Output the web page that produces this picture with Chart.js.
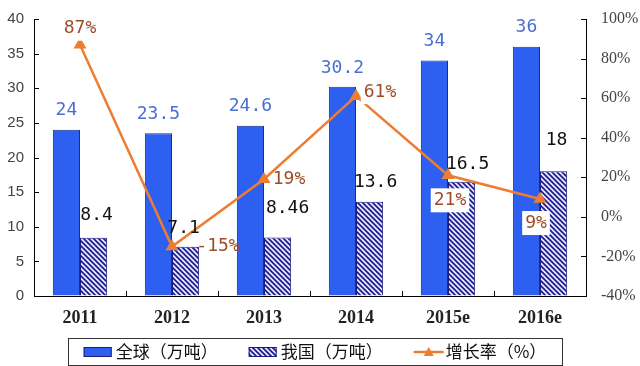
<!DOCTYPE html>
<html>
<head>
<meta charset="utf-8">
<script src="https://cdn.jsdelivr.net/npm/chart.js@4.4.1/dist/chart.umd.min.js"></script>
<style>
  html, body { margin: 0; padding: 0; background: #fff; }
  #wrap { width: 640px; height: 366px; }
</style>
</head>
<body>
<div id="wrap"><canvas id="chart" width="640" height="366"></canvas></div>
<script>
// datos
const anios = ['2011', '2012', '2013', '2014', '2015e', '2016e'];
const global = [24, 23.5, 24.6, 30.2, 34, 36];
const china = [8.4, 7.1, 8.46, 13.6, 16.5, 18];
const crecimiento = [87, -15, 19, 61, 21, 9];
const ticksIzq = [0, 5, 10, 15, 20, 25, 30, 35, 40];
const ticksDer = [-40, -20, 0, 20, 40, 60, 80, 100];

const nombres = ['全球（万吨）', '我国（万吨）', '增长率（%）'];

const AZUL = '#2d5ff0';
const NARANJA = '#ed7d31';
const MARRON = '#9e4c28';
const FUENTE_NUM = "'DejaVu Sans Mono', monospace";

// patron rayado para la serie de China
const crearRayado = () => {
    const c = document.createElement('canvas');
    c.width = c.height = 5;
    const g = c.getContext('2d');
    g.fillStyle = '#e8e8fb';
    g.fillRect(0, 0, 5, 5);
    g.strokeStyle = '#1c1c92';
    g.lineWidth = 1.7;
    g.beginPath();
    g.moveTo(-1, -1); g.lineTo(6, 6);
    g.moveTo(-1, 4); g.lineTo(1, 6);
    g.moveTo(4, -1); g.lineTo(6, 1);
    g.stroke();
    return g.createPattern(c, 'repeat');
};
const rayado = crearRayado();

// etiquetas de valores
const etiquetas = {
    id: 'etiquetas',
    afterDatasetsDraw(chart, args, opts) {
        const ctx = chart.ctx;
        ctx.save();
        ctx.textAlign = 'center';
        ctx.textBaseline = 'middle';
        ctx.font = '18px ' + FUENTE_NUM;

        // global
        chart.getDatasetMeta(1).data.forEach((el, i) => {
            ctx.fillStyle = '#4a6fd4';
            ctx.fillText(String(global[i]), el.x, el.y - 19);
        });
        // china
        chart.getDatasetMeta(2).data.forEach((el, i) => {
            ctx.fillStyle = '#111';
            ctx.fillText(String(china[i]), el.x + opts.chinaDx[i], el.y + opts.chinaDy[i]);
        });
        // crecimiento
        chart.getDatasetMeta(0).data.forEach((el, i) => {
            const txt = crecimiento[i] + '%';
            const x = el.x + opts.crecDx[i];
            const y = el.y + opts.crecDy[i];
            const w = ctx.measureText(txt).width;
            if (opts.crecFondo[i]) {
                ctx.fillStyle = '#fff';
                ctx.fillRect(x - w / 2 - 3, y - 12, w + 6, 24);
            }
            ctx.fillStyle = MARRON;
            ctx.fillText(txt, x, y);
        });
        ctx.restore();
    }
};

// marcas de los ejes hacia dentro
const marcas = {
    id: 'marcas',
    afterDraw(chart) {
        const ctx = chart.ctx;
        const a = chart.chartArea;
        const y = chart.scales.y, y1 = chart.scales.y1;
        ctx.save();
        ctx.strokeStyle = '#000';
        ctx.lineWidth = 1;
        ctx.beginPath();
        ticksIzq.forEach(v => {
            const p = Math.round(y.getPixelForValue(v)) + 0.5;
            ctx.moveTo(a.left, p); ctx.lineTo(a.left + 5, p);
        });
        ticksDer.forEach(v => {
            const p = Math.round(y1.getPixelForValue(v)) + 0.5;
            ctx.moveTo(a.right, p); ctx.lineTo(a.right - 5, p);
        });
        const paso = (a.right - a.left) / anios.length;
        for (let i = 1; i < anios.length; i++) {
            const p = Math.round(a.left + i * paso) + 0.5;
            ctx.moveTo(p, a.bottom); ctx.lineTo(p, a.bottom - 5);
        }
        ctx.stroke();
        ctx.restore();
    }
};

// leyenda con recuadro
const leyenda = {
    id: 'leyenda',
    afterDraw(chart) {
        const ctx = chart.ctx;
        ctx.save();
        ctx.font = "17px 'Noto Sans CJK SC'";
        ctx.textBaseline = 'middle';
        const caja = { x: 68, y: 338, w: 494, h: 27 };
        ctx.strokeStyle = '#333';
        ctx.lineWidth = 1;
        ctx.strokeRect(caja.x + 0.5, caja.y + 0.5, caja.w, caja.h);

        const anchoMuestra = 28, hueco = 4, separacion = 31;
        const anchos = nombres.map(n => ctx.measureText(n).width);
        const total = anchos.reduce((s, w) => s + w, 0) + 3 * (anchoMuestra + hueco) + 2 * separacion;
        let x = caja.x + caja.w / 2 - total / 2;
        const cy = caja.y + caja.h / 2 + 0.5;
        nombres.forEach((n, i) => {
            if (i === 0 || i === 1) {
                ctx.fillStyle = i === 0 ? AZUL : rayado;
                ctx.fillRect(x, cy - 5, anchoMuestra, 10);
                ctx.strokeStyle = '#1c1c80';
                ctx.strokeRect(x + 0.5, cy - 4.5, anchoMuestra - 1, 9);
            } else {
                ctx.strokeStyle = NARANJA;
                ctx.lineWidth = 2.5;
                ctx.beginPath();
                ctx.moveTo(x, cy); ctx.lineTo(x + anchoMuestra + 2, cy);
                ctx.stroke();
                ctx.fillStyle = NARANJA;
                const cx = x + anchoMuestra / 2 + 1;
                ctx.beginPath();
                ctx.moveTo(cx, cy - 5); ctx.lineTo(cx + 5, cy + 4); ctx.lineTo(cx - 5, cy + 4);
                ctx.closePath(); ctx.fill();
                ctx.lineWidth = 1;
            }
            x += anchoMuestra + hueco;
            ctx.fillStyle = '#111';
            ctx.fillText(n, x, cy);
            x += anchos[i] + separacion;
        });
        ctx.restore();
    }
};

// rejilla sin lineas, solo separa las etiquetas del eje
const rejilla = (largo) => ({
    display: true,
    drawOnChartArea: false,
    drawTicks: true,
    tickLength: largo,
    tickColor: 'rgba(0,0,0,0)'
});

new Chart(document.getElementById('chart'), {
    type: 'bar',
    data: {
        labels: anios,
        datasets: [
            {
                type: 'line',
                label: nombres[2],
                data: crecimiento,
                yAxisID: 'y1',
                borderColor: NARANJA,
                backgroundColor: NARANJA,
                borderWidth: 2.5,
                pointStyle: 'triangle',
                pointRadius: 5,
                tension: 0,
                order: 0
            },
            {
                label: nombres[0],
                data: global,
                yAxisID: 'y',
                backgroundColor: AZUL,
                borderColor: '#1a2f8a',
                borderWidth: 1,
                categoryPercentage: 0.59,
                barPercentage: 1,
                order: 1
            },
            {
                label: nombres[1],
                data: china,
                yAxisID: 'y',
                backgroundColor: rayado,
                borderColor: '#1c1c80',
                borderWidth: 1,
                categoryPercentage: 0.59,
                barPercentage: 1,
                order: 2
            }
        ]
    },
    options: {
        responsive: false,
        animation: false,
        layout: { padding: { top: 19, left: 0, right: 0, bottom: 0 } },
        plugins: {
            legend: { display: false },
            tooltip: { enabled: false },
            etiquetas: {
                chinaDx: [3, -2, 10, 6, 6, 3],
                chinaDy: [-23, -19, -29, -19, -17, -31],
                crecDx: [0, 46, 25, 24, 2, -4],
                crecDy: [-16, 0, 0, -4, 25, 24],
                crecFondo: [true, false, false, true, true, true]
            }
        },
        scales: {
            x: {
                grid: rejilla(12),
                border: { display: true, color: '#000', width: 1 },
                ticks: {
                    padding: 0,
                    color: '#222',
                    font: { family: "'Liberation Serif'", size: 18, weight: 'bold' }
                },
                afterFit: s => { s.height = 70; }
            },
            y: {
                position: 'left',
                min: 0,
                max: 40,
                grid: rejilla(10),
                border: { display: true, color: '#000', width: 1 },
                ticks: {
                    stepSize: 5,
                    padding: 0,
                    color: '#444',
                    font: { family: "'Liberation Sans'", size: 15 }
                },
                afterFit: s => { s.width = 34; }
            },
            y1: {
                position: 'right',
                min: -40,
                max: 100,
                grid: rejilla(15),
                border: { display: true, color: '#000', width: 1 },
                ticks: {
                    stepSize: 20,
                    padding: 0,
                    color: '#444',
                    font: { family: "'Liberation Serif'", size: 16 },
                    callback: v => v + '%'
                },
                afterFit: s => { s.width = 54; }
            }
        }
    },
    plugins: [etiquetas, marcas, leyenda]
});
</script>
</body>
</html>
